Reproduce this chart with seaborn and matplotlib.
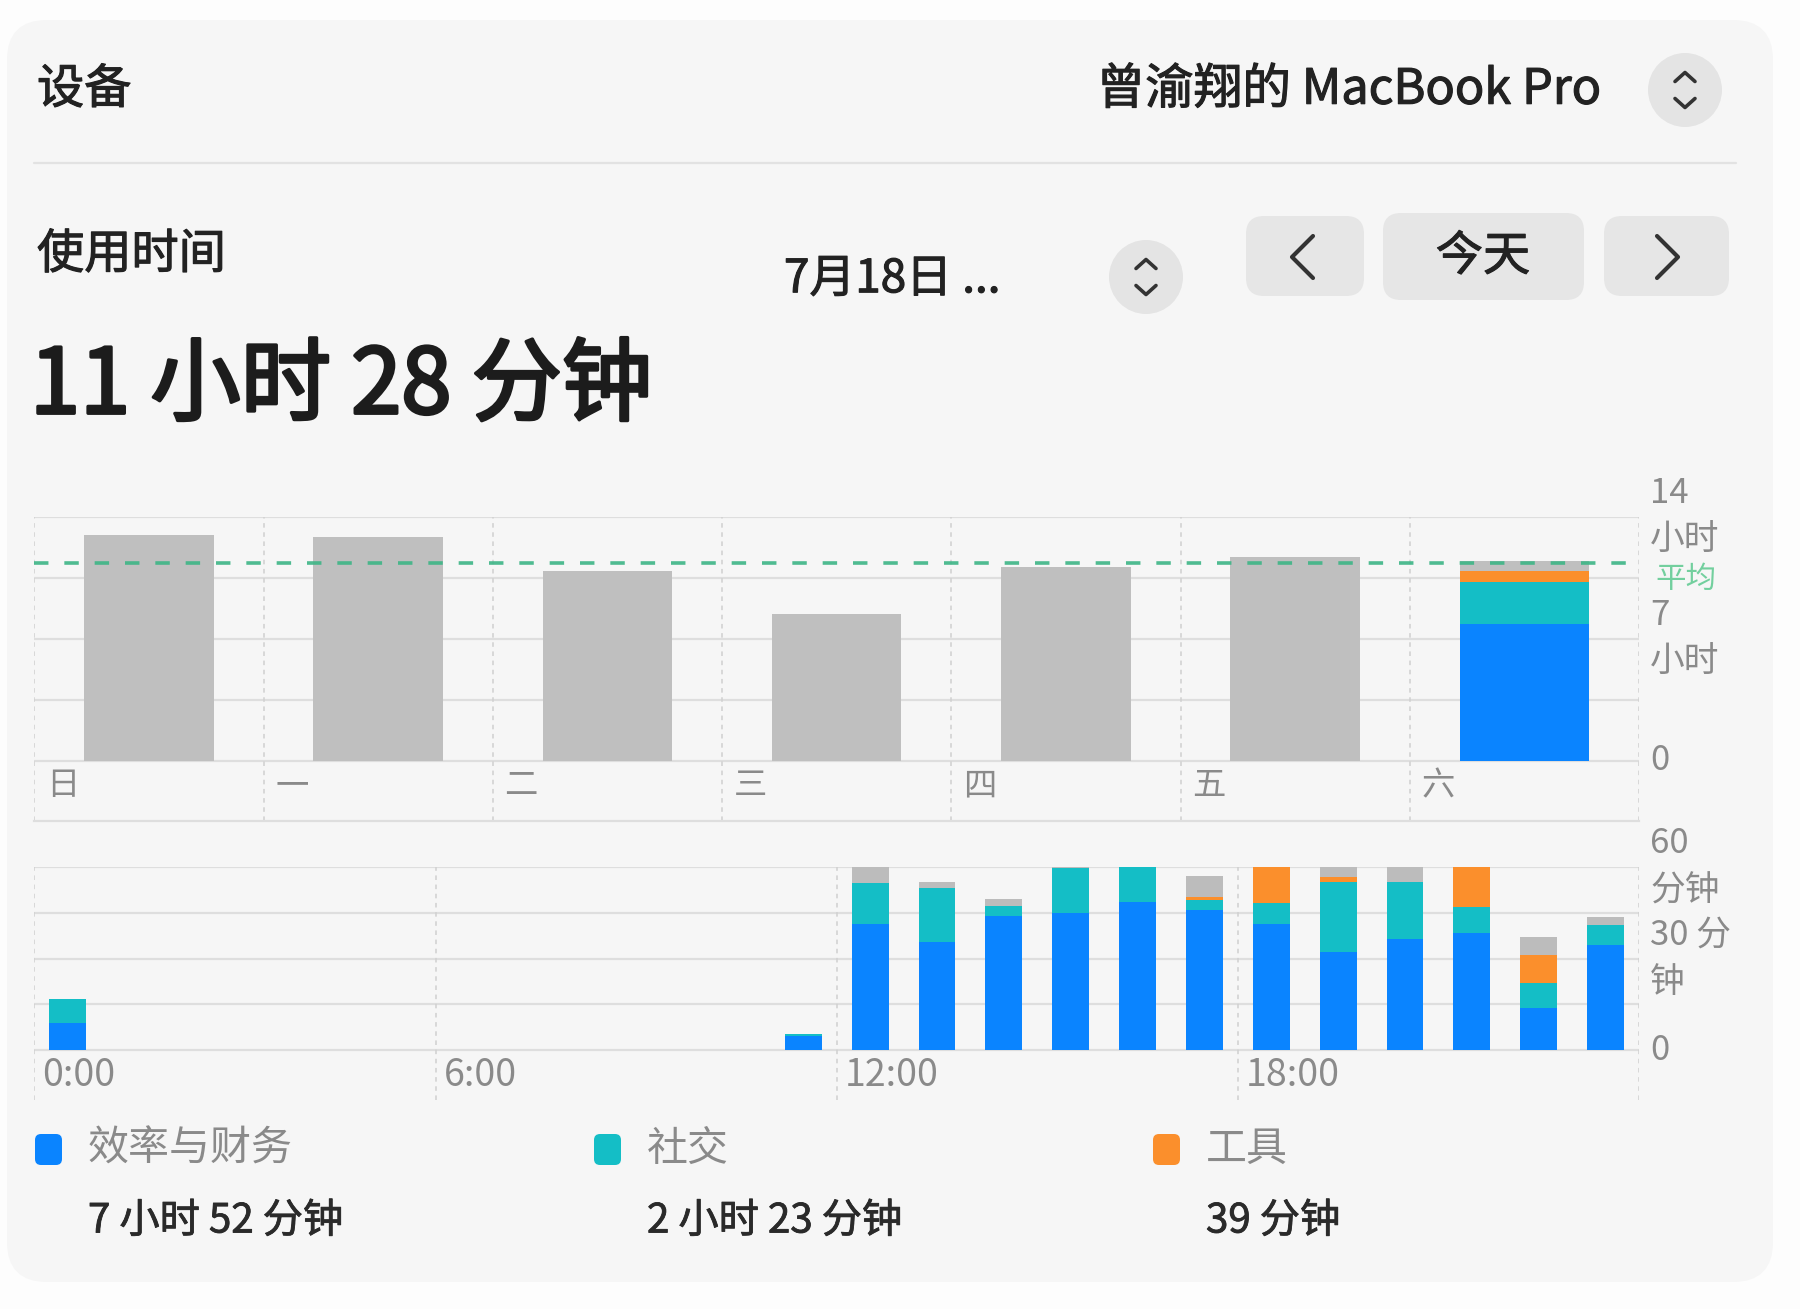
import numpy as np
import pandas as pd
import matplotlib
matplotlib.use("Agg")
import matplotlib.pyplot as plt
import matplotlib.patheffects as pe
import seaborn as sns
from matplotlib.patches import FancyBboxPatch, Circle
from matplotlib.lines import Line2D
from matplotlib.transforms import IdentityTransform

# ---------------- data ----------------
day_labels = ["日", "一", "二", "三", "四", "五", "六"]
# total usage per day, minutes (Sat = today)
daily_total_min = [778, 772, 654, 505, 669, 703, 688]
# today's breakdown by category (minutes)
categories = ["效率与财务", "社交", "工具"]
today_cat_min = [472, 143, 39]

hour_labels = ["0:00", "6:00", "12:00", "18:00"]
hours = list(range(24))
# per-hour usage today, minutes
hourly_blue = [9, 0, 0, 0, 0, 0, 0, 0, 0, 0, 0, 4.5,
               41.3, 35.6, 44, 45.1, 48.7, 46, 41.3, 32.3, 36.5, 38.3, 13.7, 34.5]
hourly_teal = [7.6, 0, 0, 0, 0, 0, 0, 0, 0, 0, 0, 0.8,
               13.7, 17.5, 3.4, 14.6, 11.3, 3.3, 6.9, 23, 18.6, 8.8, 8.2, 6.6]
hourly_orange = [0, 0, 0, 0, 0, 0, 0, 0, 0, 0, 0, 0,
                 0, 0, 0, 0, 0, 0.8, 11.8, 1.6, 0, 12.9, 9.3, 0]
hourly_other = [0, 0, 0, 0, 0, 0, 0, 0, 0, 0, 0, 0,
                5, 2.2, 2.1, 0.3, 0, 7.1, 0, 3.1, 4.9, 0, 6, 2.7]

# ---------------- style ----------------
BLUE = "#0a84ff"
TEAL = "#14bec6"
ORANGE = "#fb8f2c"
GRAY = "#bfbfbf"
GRAY2 = "#bcbcbc"
GRID = "#dedede"
BG = "#f6f6f6"
LABEL = "#8a8a8a"
DARK = "#222222"
AVG = "#3db586"

sns.set_theme(style="white")
plt.rcParams['font.family'] = ['Noto Sans CJK SC', 'DejaVu Sans']
plt.rcParams['axes.unicode_minus'] = False

W, H = 1800, 1309
fig = plt.figure(figsize=(W / 100, H / 100), dpi=100, facecolor="#fdfdfd")
ID = IdentityTransform()


def fmt_minutes(m, spaced=False):
    sp = " " if spaced else ""
    if m >= 60:
        return f"{m // 60}{sp}小时{sp}{m % 60}{sp}分钟"
    return f"{m}{sp}分钟"


def rbox(x0, y0, x1, y1, r, fc, z=0):
    p = FancyBboxPatch((x0 + r, H - y1 + r), (x1 - x0) - 2 * r, (y1 - y0) - 2 * r,
                       boxstyle=f"round,pad={r},rounding_size={r}",
                       transform=ID, fc=fc, ec="none", zorder=z)
    fig.add_artist(p)


def chevrons(cx, cy, w=10, h=9, gap=26, color="#333333"):
    up_y = cy - gap / 2
    dn_y = cy + gap / 2
    fig.add_artist(Line2D([cx - w, cx, cx + w], [H - (up_y + h / 2), H - (up_y - h / 2), H - (up_y + h / 2)],
                          transform=ID, color=color, lw=2.6, solid_capstyle="round", solid_joinstyle="round"))
    fig.add_artist(Line2D([cx - w, cx, cx + w], [H - (dn_y - h / 2), H - (dn_y + h / 2), H - (dn_y - h / 2)],
                          transform=ID, color=color, lw=2.6, solid_capstyle="round", solid_joinstyle="round"))


def ftext(x, y, s, size, color=DARK, ha="left", stroke=0.0):
    t = fig.text(x / W, 1 - y / H, s, ha=ha, va="center", fontsize=size, color=color)
    if stroke > 0:
        t.set_path_effects([pe.withStroke(linewidth=stroke, foreground=color)])
    return t


# card background
rbox(7, 20, 1773, 1282, 40, BG, z=-5)

# header
ftext(37, 90, "设备", 34, stroke=0.8)
ftext(1601, 90, "曾渝翔的 MacBook Pro", 35, ha="right", stroke=0.8)
fig.add_artist(Circle((1685, H - 90), 37, transform=ID, fc="#e4e4e4", ec="none"))
chevrons(1685, 90)
fig.add_artist(Line2D([34, 1736], [H - 163, H - 163], transform=ID, color="#e2e2e2", lw=1.6))

ftext(37, 255, "使用时间", 34, stroke=0.8)
ftext(784, 279, "7月18日 ...", 33, stroke=0.8)
fig.add_artist(Circle((1146, H - 277), 37, transform=ID, fc="#e4e4e4", ec="none"))
chevrons(1146, 277)

rbox(1246, 216, 1364, 296, 18, "#e6e6e6")
rbox(1383, 213, 1584, 300, 18, "#e6e6e6")
rbox(1604, 216, 1729, 296, 18, "#e6e6e6")
fig.add_artist(Line2D([1313, 1292, 1313], [H - 236, H - 257, H - 278], transform=ID,
                      color="#333333", lw=3, solid_capstyle="round", solid_joinstyle="round"))
fig.add_artist(Line2D([1657, 1678, 1657], [H - 236, H - 257, H - 278], transform=ID,
                      color="#333333", lw=3, solid_capstyle="round", solid_joinstyle="round"))
ftext(1483, 257, "今天", 34, ha="center", stroke=0.8)

ftext(30, 388, fmt_minutes(daily_total_min[-1], spaced=True), 65, color="#1c1c1c", stroke=2.4)

# ---------------- weekly chart ----------------
x0, x1 = 34.4, 1639
ax1 = fig.add_axes([x0 / W, 1 - 821 / H, (x1 - x0) / W, (821 - 517) / H])
ax1.set_facecolor("none")

today = day_labels.index("六")
blue_h = [today_cat_min[0] / 60 if i == today else 0 for i in range(7)]
teal_cum = [(today_cat_min[0] + today_cat_min[1]) / 60 if i == today else 0 for i in range(7)]
orange_cum = [sum(today_cat_min) / 60 if i == today else 0 for i in range(7)]
week_df = pd.DataFrame({"day": day_labels,
                        "total": np.array(daily_total_min) / 60,
                        "orange_cum": orange_cum,
                        "teal_cum": teal_cum,
                        "blue": blue_h})
for col, c in [("total", GRAY), ("orange_cum", ORANGE), ("teal_cum", TEAL), ("blue", BLUE)]:
    sns.barplot(data=week_df, x="day", y=col, order=day_labels, color=c, width=0.565,
                saturation=1, errorbar=None, ax=ax1, zorder=3, linewidth=0, edgecolor="none")

for v in [0, 3.5, 7, 10.5, 14]:
    ax1.axhline(v, color=GRID, lw=1.6, zorder=1)
for i in range(8):
    ax1.axvline(i - 0.5, color="#d0d0d0", lw=1.1, ls=(0, (3, 3)), zorder=1)
avg_h = np.mean(daily_total_min) / 60
ax1.axhline(avg_h, color=AVG, lw=2.6, ls=(0, (4, 4.4)), zorder=6, alpha=0.9)
ax1.annotate("平均", xy=(1.0, avg_h), xycoords=ax1.get_yaxis_transform(),
             xytext=(12, -12), textcoords="offset points", ha="left", va="center",
             fontsize=22, color="#5cc98f", alpha=0.85, zorder=6)

ax1.set_xlim(-0.5, 6.5)
ax1.set_ylim(-3.443, 14)
for s in ["left", "right", "top"]:
    ax1.spines[s].set_visible(False)
ax1.spines["bottom"].set_color(GRID)
ax1.spines["bottom"].set_linewidth(1.6)
ax1.set_xticks([])
ax1.set_xlabel("")
ax1.set_ylabel("")
ax1.yaxis.tick_right()
ax1.set_yticks([0, 7, 14])
ax1.set_yticklabels(["0", "7\n小时", "14\n小时"])
ax1.tick_params(axis="y", length=0, pad=8, labelsize=25, labelcolor=LABEL)
for lbl in ax1.get_yticklabels():
    lbl.set_va("center")
    lbl.set_linespacing(1.45)
for i, d in enumerate(day_labels):
    ax1.text(i - 0.45, -1.43, d, ha="left", va="center", fontsize=24, color=LABEL)

# ---------------- hourly chart ----------------
ax2 = fig.add_axes([x0 / W, 1 - 1100 / H, (x1 - x0) / W, (1100 - 867.3) / H])
ax2.set_facecolor("none")
hb = np.array(hourly_blue)
ht = np.array(hourly_teal)
ho = np.array(hourly_orange)
hg = np.array(hourly_other)
hour_df = pd.DataFrame({"hour": hours,
                        "c4": hb + ht + ho + hg,
                        "c3": hb + ht + ho,
                        "c2": hb + ht,
                        "c1": hb})
for col, c in [("c4", GRAY2), ("c3", ORANGE), ("c2", TEAL), ("c1", BLUE)]:
    sns.barplot(data=hour_df, x="hour", y=col, order=hours, color=c, width=0.55,
                saturation=1, errorbar=None, ax=ax2, zorder=3, linewidth=0, edgecolor="none")
for v in [0, 15, 30, 45, 60]:
    ax2.axhline(v, color=GRID, lw=1.6, zorder=1)
for hpos in [0, 6, 12, 18, 24]:
    ax2.axvline(hpos - 0.5, color="#d0d0d0", lw=1.1, ls=(0, (3, 3)), zorder=1)
ax2.set_xlim(-0.5, 23.5)
ax2.set_ylim(-16.42, 60)
for s in ["left", "right", "top", "bottom"]:
    ax2.spines[s].set_visible(False)
ax2.set_xticks([])
ax2.set_xlabel("")
ax2.set_ylabel("")
ax2.yaxis.tick_right()
ax2.set_yticks([0, 30, 60])
ax2.set_yticklabels(["0", "30 分\n钟", "60\n分钟"])
ax2.tick_params(axis="y", length=0, pad=8, labelsize=25, labelcolor=LABEL)
for lbl in ax2.get_yticklabels():
    lbl.set_va("center")
    lbl.set_linespacing(1.45)
for k, lab in enumerate(hour_labels):
    ax2.text(6 * k - 0.5 + 0.12, -8.5, lab, ha="left", va="center", fontsize=27, color=LABEL)

# ---------------- legend ----------------
cat_colors = [BLUE, TEAL, ORANGE]
sq_x = [35, 594, 1153]
for k, (name, c, m) in enumerate(zip(categories, cat_colors, today_cat_min)):
    rbox(sq_x[k], 1134, sq_x[k] + 27, 1165, 6, c)
    ftext(sq_x[k] + 53, 1149, name, 29.5, color=LABEL)
    ftext(sq_x[k] + 53, 1221, fmt_minutes(m, spaced=True), 29, color="#2a2a2a", stroke=0.6)

fig.savefig("out.png", dpi=100, facecolor=fig.get_facecolor())
